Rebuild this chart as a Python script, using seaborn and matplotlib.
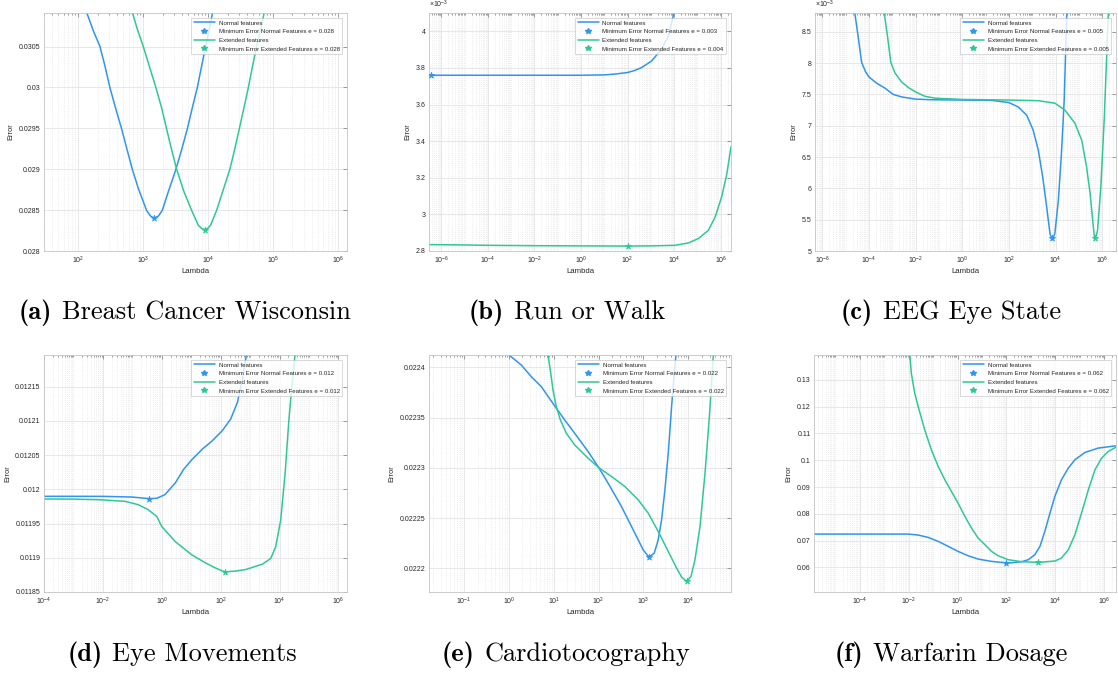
import numpy as np
import matplotlib
matplotlib.use("Agg")
import matplotlib.pyplot as plt
from matplotlib.ticker import FixedLocator, FuncFormatter, NullFormatter
from matplotlib.lines import Line2D
from matplotlib.offsetbox import TextArea, HPacker, AnchoredOffsetbox
import seaborn as sns

# ---------------------------------------------------------------------------
# Validation error versus regularisation strength (log10 of lambda)
# ---------------------------------------------------------------------------

# (a) Breast Cancer Wisconsin
A_LOG_NORMAL = [2.08, 2.133, 2.236, 2.338, 2.415, 2.492, 2.585, 2.672, 2.749, 2.836,
                2.928, 3.056, 3.118, 3.174, 3.236, 3.297, 3.390, 3.508, 3.595, 3.682,
                3.759, 3.836, 3.903, 3.964, 4.021, 4.072, 4.12]
A_ERR_NORMAL = [0.03112, 0.030918, 0.030693, 0.0305, 0.030262, 0.029996, 0.02973,
                0.029492, 0.029258, 0.029, 0.028766, 0.028496, 0.028426, 0.028402,
                0.028426, 0.028496, 0.028725, 0.029, 0.029238, 0.029492, 0.02975,
                0.029996, 0.030262, 0.0305, 0.030713, 0.030918, 0.03112]
A_LOG_EXT = [2.79, 2.836, 2.913, 3.005, 3.097, 3.200, 3.287, 3.364, 3.441, 3.518,
             3.631, 3.749, 3.851, 3.903, 3.949, 3.995, 4.041, 4.133, 4.236, 4.338,
             4.410, 4.482, 4.554, 4.621, 4.687, 4.749, 4.810, 4.867, 4.91]
A_ERR_EXT = [0.03112, 0.030918, 0.030713, 0.0305, 0.030262, 0.029996, 0.02975,
             0.029492, 0.029238, 0.029, 0.028725, 0.028496, 0.028316, 0.028275,
             0.028262, 0.028275, 0.028316, 0.028496, 0.02875, 0.029, 0.029238,
             0.029492, 0.02975, 0.029996, 0.030262, 0.0305, 0.030713, 0.030918,
             0.03108]
A_MIN_NORMAL = (3.174, 0.028402)
A_MIN_EXT = (3.949, 0.028262)

# (b) Run or Walk  (errors in units of 1e-3)
B_LOG_NORMAL = [-6.53, -4.0, -2.0, 0.0, 1.0, 1.5, 2.0, 2.3, 2.6, 3.03, 3.46, 3.75,
                3.99, 4.05]
B_ERR_NORMAL = [3.760, 3.760, 3.760, 3.760, 3.762, 3.767, 3.775, 3.786, 3.802, 3.838,
                3.902, 3.975, 4.100, 4.140]
B_LOG_EXT = [-6.53, -5.0, -4.0, -2.0, 0.0, 2.0, 3.0, 4.03, 4.61, 5.04, 5.47, 5.76,
             6.04, 6.26, 6.44]
B_ERR_EXT = [2.835, 2.833, 2.831, 2.829, 2.828, 2.827, 2.828, 2.831, 2.844, 2.868,
             2.913, 2.986, 3.096, 3.220, 3.370]
B_MIN_NORMAL = (-6.43, 3.760)
B_MIN_EXT = (2.0, 2.827)

# (c) EEG Eye State  (errors in units of 1e-3)
C_LOG_NORMAL = [-4.70, -4.60, -4.46, -4.31, -4.14, -4.0, -3.67, -3.31, -2.96, -2.60,
                -2.0, -1.31, 0.0, 1.26, 2.0, 2.40, 2.76, 3.04, 3.26, 3.45, 3.62, 3.76,
                3.81, 3.86, 3.91, 3.97, 4.12, 4.26, 4.37, 4.48, 4.52]
C_ERR_NORMAL = [9.15, 8.79, 8.42, 8.01, 7.86, 7.78, 7.68, 7.60, 7.50, 7.46, 7.425,
                7.415, 7.41, 7.405, 7.37, 7.30, 7.17, 6.93, 6.61, 6.18, 5.70, 5.28,
                5.225, 5.21, 5.225, 5.28, 5.81, 6.61, 7.41, 8.79, 9.20]
C_LOG_EXT = [-3.40, -3.34, -3.20, -3.06, -2.88, -2.60, -2.31, -2.0, -1.60, -1.17, 0.0,
             2.0, 3.26, 3.97, 4.40, 4.83, 5.12, 5.33, 5.48, 5.62, 5.66, 5.69, 5.74,
             5.80, 5.94, 6.09, 6.26, 6.30]
C_ERR_EXT = [9.20, 8.79, 8.42, 8.01, 7.84, 7.70, 7.61, 7.54, 7.47, 7.44, 7.42, 7.41,
             7.40, 7.36, 7.25, 7.04, 6.77, 6.34, 5.92, 5.38, 5.24, 5.21, 5.24, 5.33,
             6.02, 7.14, 8.79, 9.20]
C_MIN_NORMAL = (3.86, 5.21)
C_MIN_EXT = (5.69, 5.21)

# (d) Eye Movements
D_LOG_NORMAL = [-4.0, -3.0, -2.0, -1.03, -0.68, -0.42, -0.17, 0.11, 0.46, 0.74, 1.03,
                1.37, 1.71, 2.05, 2.34, 2.57, 2.74, 2.87, 2.92]
D_ERR_NORMAL = [0.0119897, 0.0119897, 0.0119896, 0.0119887, 0.0119873, 0.0119863,
                0.0119868, 0.0119922, 0.0120093, 0.0120289, 0.0120436, 0.0120583,
                0.0120706, 0.0120853, 0.0121025, 0.012127, 0.0121613, 0.0121956,
                0.012215]
D_LOG_EXT = [-4.0, -3.0, -2.17, -1.25, -0.80, -0.46, -0.17, 0.0, 0.46, 1.03, 1.48,
             1.80, 2.13, 2.50, 2.85, 3.42, 3.70, 3.87, 4.04, 4.19, 4.31, 4.44, 4.53,
             4.60]
D_ERR_EXT = [0.0119858, 0.0119856, 0.0119848, 0.0119824, 0.0119775, 0.0119701,
             0.0119603, 0.0119456, 0.0119235, 0.0119039, 0.0118926, 0.0118855,
             0.0118794, 0.0118805, 0.0118828, 0.0118907, 0.011899, 0.0119162,
             0.0119554, 0.012024, 0.0120975, 0.0121613, 0.012198, 0.01223]
D_MIN_NORMAL = (-0.42, 0.0119863)
D_MIN_EXT = (2.13, 0.0118794)

# (e) Cardiotocography
E_LOG_NORMAL = [-0.10, 0.0, 0.276, 0.499, 0.722, 1.005, 1.243, 1.467, 1.765, 2.003,
                2.211, 2.509, 2.733, 2.882, 2.993, 3.12, 3.239, 3.328, 3.403, 3.477,
                3.552, 3.626, 3.686, 3.723, 3.76]
E_ERR_NORMAL = [0.0224170, 0.0224123, 0.0224023, 0.0223907, 0.0223808, 0.0223626,
                0.0223477, 0.0223344, 0.0223162, 0.0223003, 0.0222848, 0.0222616,
                0.0222417, 0.0222285, 0.0222185, 0.0222113, 0.0222152, 0.0222285,
                0.0222483, 0.0222781, 0.0223146, 0.0223609, 0.0223940, 0.0224123,
                0.0224300]
E_LOG_EXT = [0.84, 0.871, 0.923, 0.983, 1.057, 1.147, 1.281, 1.467, 1.765, 2.003,
             2.286, 2.584, 2.882, 3.105, 3.328, 3.552, 3.738, 3.850, 3.961, 4.058,
             4.147, 4.259, 4.371, 4.468, 4.557, 4.59]
E_ERR_EXT = [0.0224250, 0.0224123, 0.0223974, 0.0223775, 0.0223609, 0.0223477,
             0.0223344, 0.0223228, 0.0223096, 0.0223003, 0.0222914, 0.0222815,
             0.0222682, 0.0222550, 0.0222368, 0.0222169, 0.0222003, 0.0221914,
             0.0221871, 0.0221921, 0.0222086, 0.0222417, 0.0222947, 0.0223510,
             0.0224123, 0.0224350]
E_MIN_NORMAL = (3.12, 0.0222113)
E_MIN_EXT = (3.961, 0.0221871)

# (f) Warfarin Dosage
F_LOG_NORMAL = [-5.87, -2.02, -1.61, -1.20, -0.79, -0.38, 0.02, 0.43, 0.84, 1.39,
                2.07, 2.62, 2.89, 3.16, 3.37, 3.57, 3.78, 3.98, 4.25, 4.53, 4.80,
                5.21, 5.75, 6.48]
F_ERR_NORMAL = [0.07243, 0.07243, 0.07206, 0.07119, 0.06970, 0.06783, 0.06597,
                0.06435, 0.06310, 0.06223, 0.06161, 0.06211, 0.06285, 0.06472,
                0.06783, 0.07343, 0.08027, 0.08650, 0.09272, 0.09707, 0.10018,
                0.10291, 0.10453, 0.10540]
F_LOG_EXT = [-2.00, -1.95, -1.89, -1.75, -1.61, -1.34, -1.07, -0.79, -0.52, -0.25,
             0.02, 0.30, 0.57, 0.84, 1.12, 1.39, 1.66, 2.07, 2.62, 3.30, 3.98, 4.25,
             4.53, 4.80, 5.07, 5.35, 5.62, 5.89, 6.16, 6.48]
F_ERR_EXT = [0.14300, 0.13930, 0.13246, 0.12500, 0.12003, 0.11132, 0.10389, 0.09768,
             0.09271, 0.08835, 0.08400, 0.07903, 0.07468, 0.07095, 0.06846, 0.06597,
             0.06435, 0.06286, 0.06211, 0.06186, 0.06236, 0.06348, 0.06659, 0.07218,
             0.08027, 0.08897, 0.09643, 0.10078, 0.10327, 0.10489]
F_MIN_NORMAL = (2.0, 0.0616)
F_MIN_EXT = (3.30, 0.06186)

# Rounded minimum errors printed in the legends
MIN_LABELS = {
    "a": ("0.028", "0.028"),
    "b": ("0.003", "0.004"),
    "c": ("0.005", "0.005"),
    "d": ("0.012", "0.012"),
    "e": ("0.022", "0.022"),
    "f": ("0.062", "0.062"),
}

TITLES = {
    "a": "Breast Cancer Wisconsin",
    "b": "Run or Walk",
    "c": "EEG Eye State",
    "d": "Eye Movements",
    "e": "Cardiotocography",
    "f": "Warfarin Dosage",
}

# ---------------------------------------------------------------------------
sns.set_style("white")
plt.rcParams["font.family"] = ["Liberation Sans", "DejaVu Sans"]
plt.rcParams["mathtext.fontset"] = "custom"
plt.rcParams["mathtext.rm"] = "Liberation Sans"
plt.rcParams["mathtext.it"] = "Liberation Sans:italic"
plt.rcParams["mathtext.bf"] = "Liberation Sans:bold"

BLUE = "#2f95ee"
GREEN = "#2ec897"
TXT = "#262626"
W, H = 1118, 675

fig = plt.figure(figsize=(W / 100, H / 100), dpi=100)


def add_axes(l, t, r, b):
    return fig.add_axes([l / W, 1 - b / H, (r - l) / W, (b - t) / H])


def style_axes(ax, xlim, ylim, xmajor, yticks, yfmt, scale=1.0, exp_label=None):
    ax.set_xscale("log")
    ax.set_xlim(10 ** xlim[0], 10 ** xlim[1])
    ax.set_ylim(ylim[0] * scale, ylim[1] * scale)
    majors = [10.0 ** k for k in xmajor]
    ax.xaxis.set_major_locator(FixedLocator(majors))
    ax.xaxis.set_major_formatter(FuncFormatter(lambda v, p: r"$10^{%d}$" % round(np.log10(v))))
    minors = [m * 10.0 ** k for k in range(-8, 9) for m in range(1, 10)
              if not (m == 1 and k in xmajor)]
    ax.xaxis.set_minor_locator(FixedLocator(minors))
    ax.xaxis.set_minor_formatter(NullFormatter())
    ax.yaxis.set_major_locator(FixedLocator([v * scale for v in yticks]))
    ax.yaxis.set_major_formatter(FuncFormatter(lambda v, p: yfmt(v / scale if scale != 1 else v)))
    ax.grid(True, which="major", color="#e4e4e4", lw=0.6, ls="-")
    ax.grid(True, which="minor", axis="x", color="#dcdcdc", lw=0.5, ls=(0, (1, 2)))
    ax.set_axisbelow(True)
    for s in ax.spines.values():
        s.set_color("#c4c4c4")
        s.set_linewidth(0.6)
        s.set_visible(True)
    ax.tick_params(which="both", direction="in", top=True, right=True,
                   color="#6e6e6e", width=0.45, labelsize=5, labelcolor=TXT, pad=2.5)
    ax.tick_params(which="major", length=2.6)
    ax.tick_params(which="minor", length=1.4)
    ax.set_xlabel("Lambda", fontsize=5.6, color=TXT, labelpad=1.5)
    ax.set_ylabel("Error", fontsize=5.4, color=TXT, labelpad=3)
    if exp_label:
        ax.text(0.0, 1.012, exp_label, transform=ax.transAxes, fontsize=5,
                color=TXT, ha="left", va="bottom")


def draw_curves(ax, key, logn, errn, loge, erre, minn, mine, scale=1.0):
    sns.lineplot(x=10.0 ** np.asarray(logn), y=np.asarray(errn) * scale, ax=ax,
                 color=BLUE, lw=1.1, sort=False, estimator=None)
    sns.lineplot(x=10.0 ** np.asarray(loge), y=np.asarray(erre) * scale, ax=ax,
                 color=GREEN, lw=1.1, sort=False, estimator=None)
    sns.scatterplot(x=[10.0 ** minn[0]], y=[minn[1] * scale], ax=ax, marker="*",
                    s=22, color=BLUE, edgecolor=BLUE, linewidth=0.5, zorder=5)
    sns.scatterplot(x=[10.0 ** mine[0]], y=[mine[1] * scale], ax=ax, marker="*",
                    s=22, color=GREEN, edgecolor=GREEN, linewidth=0.5, zorder=5)
    ln, le = MIN_LABELS[key]
    handles = [
        Line2D([], [], color=BLUE, lw=1.1),
        Line2D([], [], color=BLUE, marker="*", ls="none", ms=4),
        Line2D([], [], color=GREEN, lw=1.1),
        Line2D([], [], color=GREEN, marker="*", ls="none", ms=4),
    ]
    labels = ["Normal features",
              "Minimum Error Normal Features e = " + ln,
              "Extended features",
              "Minimum Error Extended Features e = " + le]
    leg = ax.legend(handles, labels, loc="upper right", fontsize=4.4, frameon=True,
                    fancybox=False, borderaxespad=0.75, handlelength=3.4,
                    handletextpad=0.6, labelspacing=0.55, borderpad=0.45)
    leg.get_frame().set_edgecolor("#bdbdbd")
    leg.get_frame().set_linewidth(0.5)
    for t in leg.get_texts():
        t.set_color(TXT)


def g(fmt):
    return lambda v: ("%" + fmt) % v


# (a)
ax = add_axes(44, 13, 347, 251)
draw_curves(ax, "a", A_LOG_NORMAL, A_ERR_NORMAL, A_LOG_EXT, A_ERR_EXT, A_MIN_NORMAL, A_MIN_EXT)
style_axes(ax, (1.477, 6.14), (0.028, 0.03091), [2, 3, 4, 5, 6],
           [0.028, 0.0285, 0.029, 0.0295, 0.030, 0.0305], g("g"))

# (b)
ax = add_axes(429, 13, 731, 251)
draw_curves(ax, "b", B_LOG_NORMAL, B_ERR_NORMAL, B_LOG_EXT, B_ERR_EXT, B_MIN_NORMAL, B_MIN_EXT, scale=1e-3)
style_axes(ax, (-6.53, 6.44), (2.8, 4.1), [-6, -4, -2, 0, 2, 4, 6],
           [2.8, 3.0, 3.2, 3.4, 3.6, 3.8, 4.0], lambda v: "%g" % round(v, 3),
           scale=1e-3, exp_label=r"$\times10^{-3}$")

# (c)
ax = add_axes(815, 13, 1116, 251)
draw_curves(ax, "c", C_LOG_NORMAL, C_ERR_NORMAL, C_LOG_EXT, C_ERR_EXT, C_MIN_NORMAL, C_MIN_EXT, scale=1e-3)
style_axes(ax, (-6.31, 6.59), (5.0, 8.8), [-6, -4, -2, 0, 2, 4, 6],
           [5.0, 5.5, 6.0, 6.5, 7.0, 7.5, 8.0, 8.5], lambda v: "%g" % round(v, 3),
           scale=1e-3, exp_label=r"$\times10^{-3}$")

# (d)
ax = add_axes(44, 355, 347, 592)
draw_curves(ax, "d", D_LOG_NORMAL, D_ERR_NORMAL, D_LOG_EXT, D_ERR_EXT, D_MIN_NORMAL, D_MIN_EXT)
style_axes(ax, (-4.0, 6.29), (0.01185, 0.012196), [-4, -2, 0, 2, 4, 6],
           [0.01185, 0.0119, 0.01195, 0.0120, 0.01205, 0.0121, 0.01215], g("g"))

# (e)
ax = add_axes(429, 355, 731, 592)
draw_curves(ax, "e", E_LOG_NORMAL, E_ERR_NORMAL, E_LOG_EXT, E_ERR_EXT, E_MIN_NORMAL, E_MIN_EXT)
style_axes(ax, (-1.78, 4.95), (0.0221766, 0.0224122), [-1, 0, 1, 2, 3, 4],
           [0.0222, 0.02225, 0.0223, 0.02235, 0.0224], g("g"))

# (f)
ax = add_axes(814, 355, 1116, 592)
draw_curves(ax, "f", F_LOG_NORMAL, F_ERR_NORMAL, F_LOG_EXT, F_ERR_EXT, F_MIN_NORMAL, F_MIN_EXT)
style_axes(ax, (-5.87, 6.48), (0.0508, 0.1393), [-4, -2, 0, 2, 4, 6],
           [0.06, 0.07, 0.08, 0.09, 0.10, 0.11, 0.12, 0.13], g("g"))

# Sub-figure captions
CAPTION_POS = {"a": (185, 313), "b": (567, 313), "c": (951, 313),
               "d": (182, 655), "e": (566, 655), "f": (951, 655)}
for key, (cx, cy) in CAPTION_POS.items():
    bold = TextArea("(%s)" % key, textprops=dict(family="cmb10", size=19, color="black"))
    rest = TextArea(TITLES[key], textprops=dict(family="cmr10", size=19, color="black"))
    box = HPacker(children=[bold, rest], align="baseline", pad=0, sep=7)
    anchored = AnchoredOffsetbox(loc="center", child=box, frameon=False,
                                 bbox_to_anchor=(cx / W, 1 - cy / H),
                                 bbox_transform=fig.transFigure, pad=0, borderpad=0)
    fig.add_artist(anchored)

fig.savefig("out.png", dpi=100, facecolor="white")
